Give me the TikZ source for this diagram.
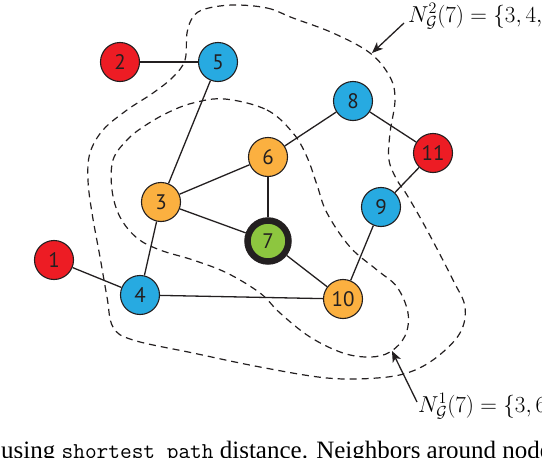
\documentclass[tikz,border=0pt]{standalone}
\usepackage{fontspec}
\setmainfont{Liberation Serif}
\setmonofont{Latin Modern Mono}
\newfontfamily\nodefont{PT Sans}
\usetikzlibrary{arrows.meta,backgrounds}
\definecolor{cred}{HTML}{ED1C24}
\definecolor{cblue}{HTML}{27AAE1}
\definecolor{corange}{HTML}{FBB040}
\definecolor{cgreen}{HTML}{8DC63F}
\definecolor{cline}{HTML}{231F20}
\newcommand{\biglabel}[1]{\scalebox{1.11}{\fontsize{20.74}{24}\selectfont #1}}
\tikzset{
  vert/.style={circle,draw=cline,line width=1.1pt,minimum size=39pt,inner sep=0pt,
    font=\nodefont\fontsize{21}{21}\selectfont,text=cline},
  rv/.style={vert,fill=cred},
  bv/.style={vert,fill=cblue},
  ov/.style={vert,fill=corange},
  gv/.style={vert,fill=cgreen,line width=6.5pt,minimum size=41pt},
  link/.style={draw=cline,line width=1.3pt},
  hood/.style={draw=cline,line width=1.2pt,dash pattern=on 7pt off 5pt},
  pointer/.style={draw=cline,line width=1.3pt,-{Stealth[length=11pt,width=9pt,inset=3pt]}},
  mathlabel/.style={inner sep=0pt,text=black},
}
\begin{document}
\begin{tikzpicture}[x=1pt,y=-1pt]
\useasboundingbox (0,0) rectangle (542,458);
\clip (0,0) rectangle (542,458);
% vertices
\node[rv] (n2) at (120,62) {2};
\node[bv] (n5) at (218,62) {5};
\node[bv] (n8) at (353,101) {8};
\node[rv] (n11) at (433,153) {11};
\node[ov] (n6) at (268,157) {6};
\node[ov] (n3) at (161,202) {3};
\node[bv] (n9) at (381,207) {9};
\node[gv] (n7) at (268,241) {7};
\node[rv] (n1) at (54,260) {1};
\node[bv] (n4) at (140,295) {4};
\node[ov] (n10) at (343,299) {10};
\begin{pgfonlayer}{background}
\draw[link] (n2) -- (n5);
\draw[link] (n5) -- (n3);
\draw[link] (n3) -- (n6);
\draw[link] (n3) -- (n7);
\draw[link] (n3) -- (n4);
\draw[link] (n6) -- (n7);
\draw[link] (n6) -- (n8);
\draw[link] (n8) -- (n11);
\draw[link] (n11) -- (n9);
\draw[link] (n9) -- (n10);
\draw[link] (n7) -- (n10);
\draw[link] (n4) -- (n10);
\draw[link] (n1) -- (n4);
% outer neighbourhood
\draw[hood] plot[smooth cycle,tension=0.6] coordinates {
 (233,5) (267,8) (293,18) (333,33) (370,53) (390,77) (395,100) (390,133)
 (389,160) (397,180) (407,195) (427,230) (453,280) (465,307) (460,333)
 (437,357) (410,372) (377,378) (327,378) (260,367) (193,353) (133,340)
 (113,327) (107,297) (100,257) (92,213) (88,180) (90,153) (103,130)
 (127,110) (153,93) (173,77) (185,60) (187,33) (193,17) (205,9)};
% inner neighbourhood
\draw[hood] plot[smooth cycle,tension=0.6] coordinates {
 (225,99) (267,110) (293,133) (307,157) (317,185) (327,213) (350,247)
 (377,270) (397,287) (408,313) (405,336) (390,352) (370,357) (343,353)
 (310,337) (280,313) (260,293) (227,273) (193,260) (160,250) (137,238)
 (120,217) (112,190) (113,160) (127,140) (143,127) (167,113) (193,103)};
\end{pgfonlayer}
% labels
\node[mathlabel,anchor=base west] (lab2) at (408,22) {\biglabel{$N_{\mathcal G}^2(7)=\{3,4,$}};
\coordinate (tip2) at (372,53);
\coordinate (tail2) at (404,23);
\draw[pointer] (tail2) -- (tip2);
\node[mathlabel,anchor=base west] (lab1) at (418,412) {\biglabel{$N_{\mathcal G}^1(7)=\{3,6$}};
\coordinate (tip1) at (392,351);
\coordinate (tail1) at (417,402);
\draw[pointer] (tail1) -- (tip1);
\node[inner sep=0pt,anchor=base west,font=\fontsize{25}{28}\selectfont] (cap) at (1,458)
 {using \texttt{\fontsize{22.7}{28}\selectfont shortest\_path} distance. Neighbors around node};
\end{tikzpicture}
\end{document}
